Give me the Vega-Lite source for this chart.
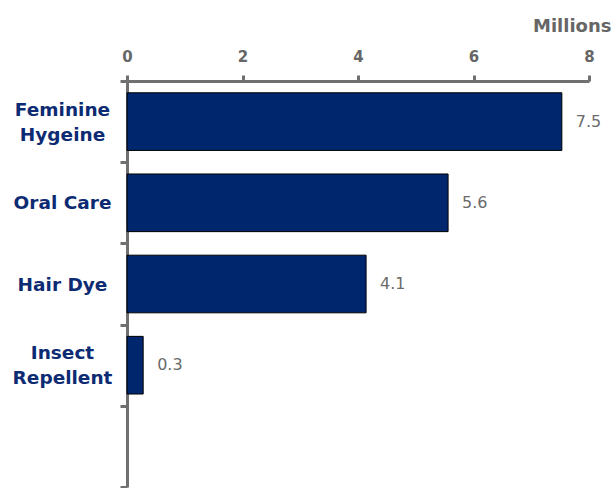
{
  "$schema": "https://vega.github.io/schema/vega-lite/v6.json",
  "autosize": {"type": "none"},
  "width": 462,
  "height": 406,
  "padding": {"left": 127, "top": 81, "right": 25, "bottom": 1},
  "background": "white",
  "config": {"view": {"stroke": null}, "font": "DejaVu Sans"},
  "data": {
    "values": [
      {"category": "Feminine|Hygeine", "value": 7.53},
      {"category": "Oral Care", "value": 5.56},
      {"category": "Hair Dye", "value": 4.14},
      {"category": "Insect|Repellent", "value": 0.28}
    ]
  },
  "encoding": {
    "y": {
      "field": "category",
      "type": "nominal",
      "scale": {
        "domain": ["Feminine|Hygeine", "Oral Care", "Hair Dye", "Insect|Repellent", " "],
        "paddingInner": 0,
        "paddingOuter": 0
      },
      "axis": {
        "title": null,
        "orient": "left",
        "tickBand": "extent",
        "labelExpr": "datum.value ? split(datum.value, '|') : ''",
        "labelAlign": "center",
        "labelBaseline": "middle",
        "labelOffset": {"condition": {"test": "datum.value && indexof(datum.value, '|') >= 0", "value": -12.5}, "value": 0},
        "labelPadding": 58,
        "labelFont": "DejaVu Sans",
        "labelFontWeight": "bold",
        "labelFontSize": 18.5,
        "labelColor": "#0D2B73",
        "labelLineHeight": 25,
        "domainColor": "#707070",
        "domainWidth": 3,
        "tickColor": "#707070",
        "tickWidth": 3,
        "tickSize": 7,
        "grid": false
      }
    },
    "x": {
      "field": "value",
      "type": "quantitative",
      "scale": {"domain": [0, 8], "nice": false, "zero": true},
      "axis": {
        "orient": "top",
        "values": [0, 2, 4, 6, 8],
        "format": "d",
        "title": "Millions",
        "titleX": 484,
        "titleY": -50,
        "titleAlign": "right",
        "titleBaseline": "alphabetic",
        "titleFont": "DejaVu Sans",
        "titleFontWeight": "bold",
        "titleFontSize": 18,
        "titleColor": "#666666",
        "labelFont": "DejaVu Sans",
        "labelFontWeight": "bold",
        "labelFontSize": 15,
        "labelColor": "#666666",
        "labelPadding": 11,
        "labelFlush": false,
        "domainColor": "#707070",
        "domainWidth": 3,
        "tickColor": "#707070",
        "tickWidth": 3,
        "tickSize": 6,
        "grid": false
      }
    }
  },
  "layer": [
    {
      "mark": {"type": "bar", "color": "#00266E", "stroke": "#000000", "strokeWidth": 1, "height": {"band": 0.71}}
    },
    {
      "mark": {"type": "text", "align": "left", "baseline": "middle", "dx": 14, "font": "DejaVu Sans", "fontSize": 16, "color": "#6B6B6B"},
      "encoding": {"text": {"field": "value", "type": "quantitative", "format": ".1f"}}
    }
  ]
}
